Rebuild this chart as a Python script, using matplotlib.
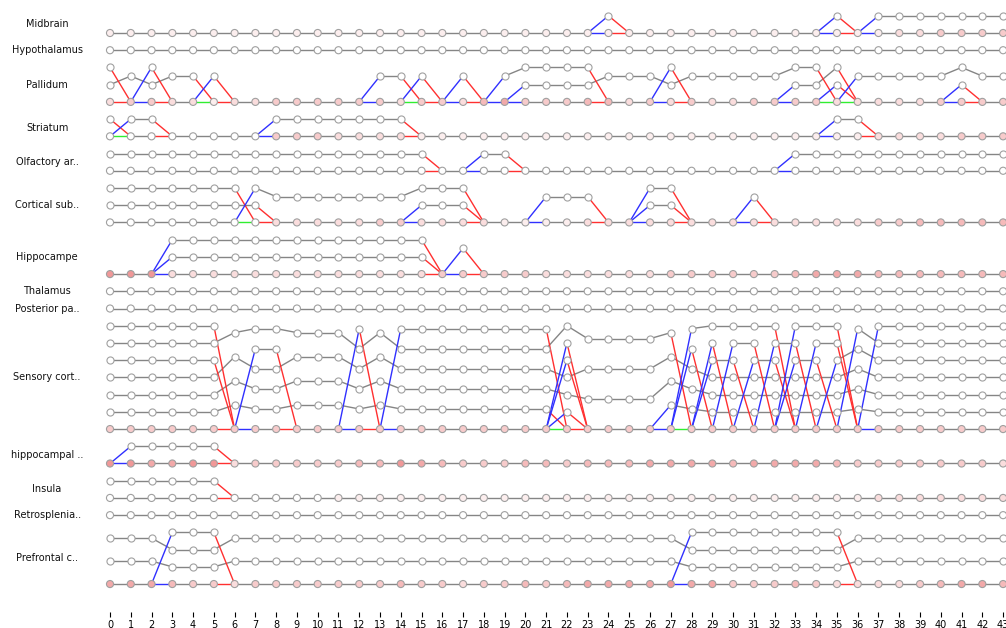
import numpy as np
import matplotlib
matplotlib.use('Agg')
import matplotlib.pyplot as plt
from matplotlib.colors import to_rgb

steps = np.arange(44)

regions = ['Midbrain', 'Hypothalamus', 'Pallidum', 'Striatum', 'Olfactory ar..',
           'Cortical sub..', 'Hippocampe', 'Thalamus', 'Posterior pa..',
           'Sensory cort..', 'hippocampal ..', 'Insula', 'Retrosplenia..',
           'Prefrontal c..']

# active tracks per step, listed top to bottom ('-' = only the base line)
# (step, state) pairs, a state holds until the next pair
midbrain = [(0, '-'), (24, 'A'), (25, '-'), (35, 'B'), (36, '-'), (37, 'C')]
hypothalamus = [(0, '-')]
pallidum = [(0, 'AB'), (1, 'B'), (2, 'CB'), (3, 'B'), (5, 'D'), (6, '-'), (13, 'E'),
            (15, 'F'), (16, '-'), (17, 'G'), (18, '-'), (19, 'H'), (20, 'HI'), (24, 'I'),
            (27, 'JI'), (28, 'I'), (33, 'IK'), (35, 'KL'), (36, 'M'), (41, 'MN'), (42, 'M')]
striatum = [(0, 'A'), (1, 'B'), (3, '-'), (8, 'C'), (15, '-'), (35, 'D'), (37, '-')]
olfactory = [(0, 'A'), (16, '-'), (18, 'B'), (20, '-'), (33, 'C')]
cortical = [(0, 'AB'), (7, 'CB'), (8, 'C'), (15, 'CD'), (18, '-'), (21, 'E'), (24, '-'),
            (26, 'FG'), (28, '-'), (31, 'H'), (32, '-')]
hippocampe = [(0, '-'), (3, 'AB'), (16, '-'), (17, 'C'), (18, '-')]
thalamus = [(0, '-')]
posterior = [(0, '-')]
sensory = [(0, 'ABCDEF'), (6, 'BDEF'), (7, 'BGDEF'), (9, 'BDEF'), (12, 'HBDEF'),
           (13, 'BDEF'), (14, 'IBDEF'), (22, 'BJKDEN'), (23, 'BDE'), (27, 'BDEL'),
           (28, 'MNDEL'), (29, 'MOPDEL'), (30, 'MQPDEL'), (31, 'MQRDEL'), (32, 'MSRDEL'),
           (33, 'TSUDEL'), (34, 'TVUDEL'), (35, 'TVWDEL'), (36, 'YWDEL'), (37, 'ZYWDEL')]
hippocampal = [(0, '-'), (1, 'A'), (6, '-')]
insula = [(0, 'A'), (6, '-')]
retrosplenial = [(0, '-')]
prefrontal = [(0, 'AB'), (3, 'CAB'), (6, 'AB'), (28, 'DAB'), (36, 'AB')]

tracks = [midbrain, hypothalamus, pallidum, striatum, olfactory, cortical, hippocampe,
          thalamus, posterior, sensory, hippocampal, insula, retrosplenial, prefrontal]

# steps where the base line stays grey although tracks come and go
plain_base = {'Sensory cort..': [28, 29, 30, 31, 32, 33, 34, 35]}

# fill strength of the base nodes (0 = white ... 9 = strong red)
base_fill = [
    '11111111111111111111111111111111111111223333',
    '00000000000000000000000000000000000000000000',
    '23322122333333233245333442323223333222223333',
    '00000000333222211111111111111111111112222333',
    '00000000000000000000000000000000000000000000',
    '00000000222223322221111222222222222223344444',
    '66622222222222223333322222233333345554444444',
    '00000000000000000000000000000000000000000000',
    '00000000000000000000000000000000000000000000',
    '33333333333333333333333333333333333333333333',
    '66556623333344654333443444555545555433333332',
    '00000000000111111111111111111111111112222222',
    '00000000000000000000000000000000000000000000',
    '55543323333333433233434555565533343222234554',
]


def expand(spec):
    out = []
    for i, (start, state) in enumerate(spec):
        end = spec[i + 1][0] if i + 1 < len(spec) else len(steps)
        out += [state.strip('-')] * (end - start)
    return out


states = [expand(s) for s in tracks]
slots = [max(len(s) for s in st) for st in states]
bases = np.cumsum([m + 1 for m in slots])

fig = plt.figure(figsize=(10.06, 6.28), dpi=100)
ax = fig.add_axes([0, 16 / 628, 1, 612 / 628])

GRAY, BLUE, RED, GREEN = '#858585', '#3030ff', '#ff3030', '#30ee30'
lw = 1.0
pink = np.array(to_rgb('#e86464'))
white = np.array([1.0, 1.0, 1.0])


def ypos(base, m, state, c):
    n = len(state)
    k = n - state.index(c)
    return base - k * (m + 1) / (n + 1)


for r, name in enumerate(regions):
    base, m, st = bases[r], slots[r], states[r]
    ax.text(-3.03, base - m / 2, name, ha='center', va='center', fontsize=7, color='#111111')
    for t in steps[:-1]:
        s0, s1 = st[t], st[t + 1]
        born = [c for c in s1 if c not in s0]
        died = [c for c in s0 if c not in s1]
        for c in s0:
            if c in s1:
                ax.plot([t, t + 1], [ypos(base, m, s0, c), ypos(base, m, s1, c)],
                        color=GRAY, lw=lw, zorder=1)
            else:
                ax.plot([t, t + 1], [ypos(base, m, s0, c), base], color=RED, lw=lw, zorder=2)
        for c in born:
            ax.plot([t, t + 1], [base, ypos(base, m, s1, c)], color=BLUE, lw=lw, zorder=2)
        if t in plain_base.get(name, []):
            col = GRAY
        elif born and died:
            col = GREEN
        elif born:
            col = BLUE
        elif died:
            col = RED
        else:
            col = GRAY
        ax.plot([t, t + 1], [base, base], color=col, lw=lw, zorder=1 if col == GRAY else 2)
    # nodes
    xs, ys = [], []
    for t in steps:
        for c in st[t]:
            xs.append(t)
            ys.append(ypos(base, m, st[t], c))
    ax.scatter(xs, ys, s=26, facecolor='white', edgecolor='#a0a0a0', linewidth=0.8, zorder=3)
    fills = [tuple(white + (pink - white) * int(v) / 9) for v in base_fill[r]]
    ax.scatter(steps, [base] * len(steps), s=26, facecolor=fills, edgecolor='#a0a0a0',
               linewidth=0.8, zorder=3)

ax.set_xlim(-110 / 20.77, (1006 - 110) / 20.77)
ax.set_ylim(2 + 579 / 17.22, 2 - 33 / 17.22)
ax.set_xticks(steps)
ax.tick_params(axis='x', labelsize=7, length=3.5, width=0.8, pad=2)
ax.set_yticks([])
for sp in ax.spines.values():
    sp.set_visible(False)

fig.savefig('out.png', dpi=100)
